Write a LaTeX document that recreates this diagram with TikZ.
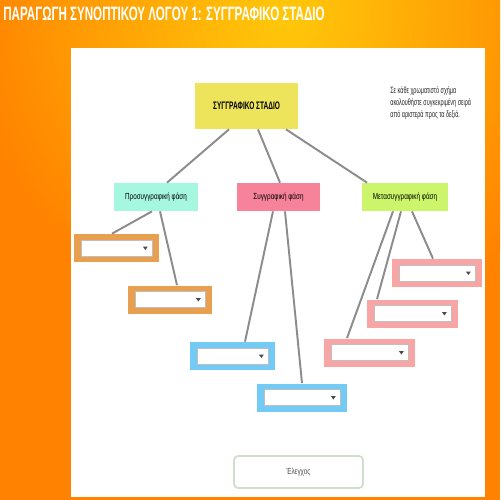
\documentclass[tikz,border=0pt]{standalone}
\usepackage{fontspec}
\setmainfont{Liberation Sans}
\newfontfamily\narrowfont[FakeStretch=0.72]{Liberation Sans}
\newfontfamily\condfont[FakeStretch=0.6]{Liberation Sans}

\definecolor{bgorange}{RGB}{255,130,0}
\definecolor{bgyellow}{RGB}{255,200,10}
\definecolor{rootyellow}{RGB}{237,228,92}
\definecolor{protocyan}{RGB}{166,247,224}
\definecolor{synpink}{RGB}{247,131,155}
\definecolor{metalime}{RGB}{204,245,107}
\definecolor{frameorange}{RGB}{232,160,80}
\definecolor{frameblue}{RGB}{115,203,245}
\definecolor{framepink}{RGB}{247,165,165}
\definecolor{linegray}{RGB}{140,140,140}
\definecolor{buttongreen}{RGB}{205,222,205}

% a drop-down field: name, colour, x, y, width (pixels)
\newcommand{\dropdown}[5]{%
  \node[dropbox, fill=#2, minimum width=#5*0.02cm] (#1) at (#3,#4) {};
  \node[dropfield, minimum width=(#5-14)*0.02cm] (#1f) at (#1) {};
  \fill[black!70] ([xshift=-0.14cm]#1f.east) ++(-0.05cm,0.03cm) -- ++(0.1cm,0) -- ++(-0.05cm,-0.07cm) -- cycle;
}

\begin{document}
\begin{tikzpicture}[x=0.02cm, y=-0.02cm,
  phase/.style={minimum width=1.68cm, minimum height=0.56cm, inner sep=0,
    font=\narrowfont\fontsize{5}{6}\selectfont},
  dropbox/.style={minimum height=0.56cm, inner sep=0},
  dropfield/.style={fill=white, draw=black!25, line width=0.4pt,
    minimum height=0.32cm, inner sep=0},
  branch/.style={draw=linegray, line width=1.1pt}]

% background
\fill[bgorange] (0,0) rectangle (500,500);
\begin{scope}
\clip (0,0) rectangle (500,500);
\shade[inner color=bgyellow, outer color=bgorange] (285,15) circle (320);
\end{scope}
\fill[white] (71,48) rectangle (485,497);
\useasboundingbox (0,0) rectangle (500,500);

\node[anchor=base west, text=white, inner sep=0,
  font=\condfont\bfseries\fontsize{11}{12}\selectfont] (title) at (3,21)
  {ΠΑΡΑΓΩΓΗ ΣΥΝΟΠΤΙΚΟΥ ΛΟΓΟΥ 1: ΣΥΓΓΡΑΦΙΚΟ ΣΤΑΔΙΟ};

% tree
\node[fill=rootyellow, minimum width=2.06cm, minimum height=0.92cm, inner sep=0,
  font=\condfont\bfseries\fontsize{6.2}{7}\selectfont] (root) at (246.5,106)
  {ΣΥΓΓΡΑΦΙΚΟ ΣΤΑΔΙΟ};
\node[anchor=west, align=left, inner sep=0, text=black!85,
  font=\condfont\fontsize{5.2}{6.8}\selectfont] (hint) at (390,103)
  {Σε κάθε χρωματιστό σχήμα\\ακολουθήστε συγκεκριμένη σειρά\\από αριστερά προς τα δεξιά.};

\node[phase, fill=protocyan] (proto) at (156,197) {Προσυγγραφική φάση};
\node[phase, fill=synpink] (syn) at (278.5,197) {Συγγραφική φάση};
\node[phase, fill=metalime, minimum width=1.72cm] (meta) at (405,197) {Μετασυγγραφική φάση};

\dropdown{orA}{frameorange}{116.5}{248}{85}
\dropdown{orB}{frameorange}{170}{299.5}{84}
\dropdown{blA}{frameblue}{232.5}{356}{85}
\dropdown{blB}{frameblue}{302}{397.5}{90}
\dropdown{pkA}{framepink}{437}{273}{90}
\dropdown{pkB}{framepink}{412.5}{313.5}{91}
\dropdown{pkC}{framepink}{369.5}{352.5}{91}

\draw[branch] ([xshift=-0.35cm]root.south) -- ([xshift=0.22cm]proto.north);
\draw[branch] ([xshift=0.23cm]root.south) -- ([xshift=0.03cm]syn.north);
\draw[branch] ([xshift=0.79cm]root.south) -- ([xshift=-0.76cm]meta.north);

\draw[branch] ([xshift=-0.08cm]proto.south) -- ([xshift=-0.09cm]orA.north);
\draw[branch] ([xshift=0.08cm]proto.south) -- ([xshift=0.14cm]orB.north);
\draw[branch] ([xshift=-0.11cm]syn.south) -- ([xshift=0.25cm]blA.north);
\draw[branch] ([xshift=0.13cm]syn.south) -- (blB.north);
\draw[branch] ([xshift=-0.24cm]meta.south) -- ([xshift=-0.45cm]pkC.north);
\draw[branch] ([xshift=-0.08cm]meta.south) -- ([xshift=-0.71cm]pkB.north);
\draw[branch] ([xshift=0.14cm]meta.south) -- ([xshift=-0.08cm]pkA.north);

\node[draw=buttongreen, line width=1pt, rounded corners=0.08cm, fill=white,
  minimum width=2.58cm, minimum height=0.64cm, inner sep=0, text=black!70,
  font=\narrowfont\fontsize{5}{6}\selectfont] (check) at (298.5,472) {Έλεγχος};
\end{tikzpicture}
\end{document}
